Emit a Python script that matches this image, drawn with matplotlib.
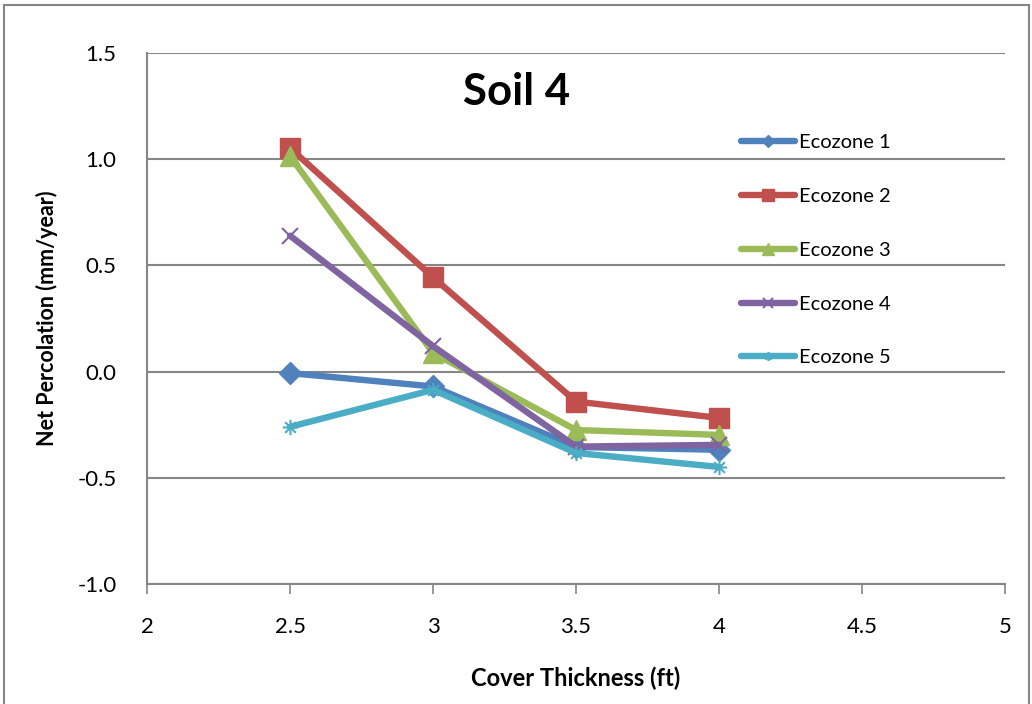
import matplotlib
matplotlib.use("Agg")
import matplotlib.pyplot as plt
from matplotlib.path import Path
from matplotlib.patches import Rectangle

plt.rcParams['font.family'] = ['Lato', 'DejaVu Sans']

x = [2.5, 3.0, 3.5, 4.0]
eco1 = [-0.007, -0.07, -0.355, -0.368]
eco2 = [1.053, 0.444, -0.141, -0.218]
eco3 = [1.015, 0.088, -0.275, -0.298]
eco4 = [0.64, 0.12, -0.353, -0.345]
eco5 = [-0.26, -0.086, -0.383, -0.449]
names = ["Ecozone 1", "Ecozone 2", "Ecozone 3", "Ecozone 4", "Ecozone 5"]
xticks = [2, 2.5, 3, 3.5, 4, 4.5, 5]
xticklabels = ["2", "2.5", "3", "3.5", "4", "4.5", "5"]
yticks = [-1.0, -0.5, 0.0, 0.5, 1.0, 1.5]
yticklabels = ["-1.0", "-0.5", "0.0", "0.5", "1.0", "1.5"]

colors = ["#4F81BD", "#C0504D", "#9BBB59", "#8064A2", "#4BACC6"]

star = Path([(-1, 0), (1, 0), (0, -1), (0, 1), (-0.7, -0.7), (0.7, 0.7), (-0.7, 0.7), (0.7, -0.7)],
            [Path.MOVETO, Path.LINETO] * 4)

fig = plt.figure(figsize=(10.32, 7.04), dpi=100)
fig.patches.append(Rectangle((4/1032, -0.1), (1029-4)/1032, 1.1 - 5/704,
                             transform=fig.transFigure, fill=False, edgecolor="#868686", lw=1.5))
ax = fig.add_axes([147/1032, (704-584)/704, (1005-147)/1032, (584-53)/704])

series = [eco1, eco2, eco3, eco4, eco5]
mk = [dict(marker='D', markersize=11),
      dict(marker='s', markersize=14),
      dict(marker='^', markersize=14),
      dict(marker='x', markersize=12, markeredgewidth=1.5),
      dict(marker=star, markersize=11, markeredgewidth=1.5)]
for s, c, n, m in zip(series, colors, names, mk):
    ax.plot(x, s, color=c, lw=4.6, label=n, markerfacecolor=c, markeredgecolor=c,
            solid_capstyle='round', **m)

ax.set_xlim(2, 5)
ax.set_ylim(-1.0, 1.5)
ax.set_xticks(xticks)
ax.set_xticklabels(xticklabels)
ax.set_yticks(yticks)
ax.set_yticklabels(yticklabels)
ax.yaxis.grid(True, color="#868686", lw=1.5)
ax.set_axisbelow(True)
for sp in ['top', 'right']:
    ax.spines[sp].set_visible(False)
ax.spines['left'].set_color("#868686")
ax.spines['bottom'].set_color("#868686")
ax.spines['left'].set_linewidth(1.5)
ax.spines['bottom'].set_linewidth(1.5)
ax.tick_params(axis='x', direction='out', length=7, color="#868686", width=1.2, labelsize=16, pad=17)
ax.tick_params(axis='y', length=0, labelsize=16, pad=22)

ax.set_xlabel("Cover Thickness (ft)", fontsize=17, fontweight='bold', labelpad=21)
ax.set_ylabel("Net Percolation (mm/year)", fontsize=15.5, fontweight='bold', labelpad=14)
ax.text(0.431, 0.927, "Soil 4", transform=ax.transAxes, fontsize=31.5, fontweight='bold',
        ha='center', va='center')

leg = ax.legend(loc='upper left', bbox_to_anchor=(0.683, 0.862), frameon=False, fontsize=14.5,
                handlelength=2.7, labelspacing=1.82, handletextpad=0.2, markerscale=0.6,
                borderaxespad=0)

fig.savefig("out.png", dpi=100)
